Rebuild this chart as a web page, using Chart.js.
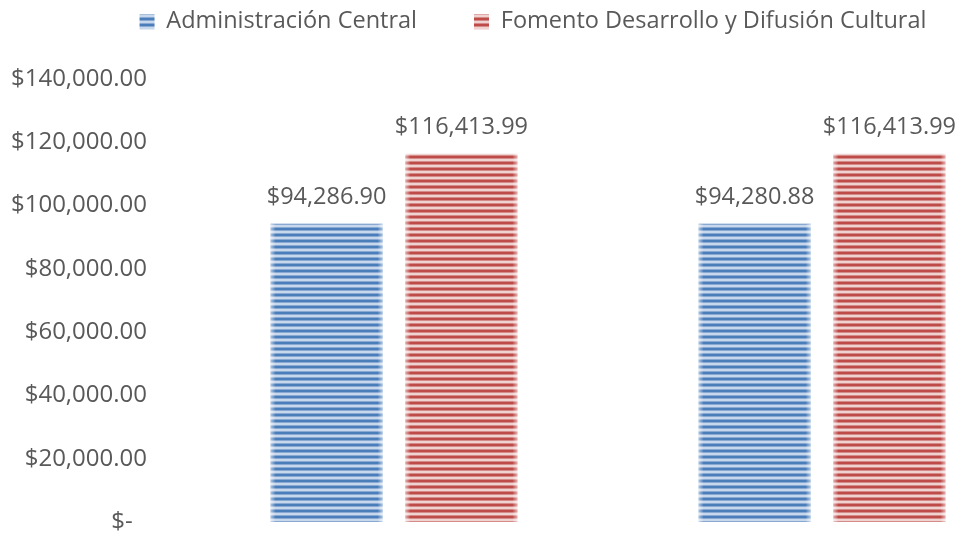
<!DOCTYPE html>
<html>
<head>
<meta charset="utf-8">
<script src="https://cdn.jsdelivr.net/npm/chart.js@4"></script>
<style>
html,body{margin:0;padding:0;background:#fff;overflow:hidden;}
#wrap{width:965px;height:533px;overflow:hidden;position:relative;}
canvas{display:block;}
</style>
</head>
<body>
<div id="wrap"><canvas id="c" width="1066" height="533"></canvas></div>
<script>
const categories = ['1', '2'];
const seriesNames = ['Administración Central', 'Fomento Desarrollo y Difusión Cultural'];
const adminValues = [94286.90, 94280.88];
const fomentoValues = [116413.99, 116413.99];
const yTicks = [0, 20000, 40000, 60000, 80000, 100000, 120000, 140000];

const FONT = '"Open Sans", sans-serif';
const TEXT = '#595959';
const FS = 23.5;

function stripes(dark, mid, light) {
  const c = document.createElement('canvas');
  c.width = 4; c.height = 6;
  const g = c.getContext('2d');
  const rows = [dark, dark, mid, light, light, mid];
  rows.forEach((col, i) => { g.fillStyle = col; g.fillRect(0, i, 4, 1); });
  return g.createPattern(c, 'repeat');
}
const bluePat = stripes('#4a7ebb', '#8aa9d2', '#c8d8ec');
const redPat = stripes('#be4b48', '#d48c8a', '#f0d2d1');

function money(v) {
  return '$' + v.toLocaleString('en-US', {minimumFractionDigits: 2, maximumFractionDigits: 2});
}

const legendSpace = {
  id: 'legendSpace',
  beforeLayout(chart) {
    const lg = chart.legend;
    if (lg && !lg._patched) {
      const fit = lg.fit;
      lg.fit = function () { fit.call(this); this.height += 35.5; };
      lg._patched = true;
    }
  }
};

const edgePlugin = {
  id: 'edges',
  afterDatasetsDraw(chart) {
    const ctx = chart.ctx;
    chart.data.datasets.forEach((ds, i) => {
      chart.getDatasetMeta(i).data.forEach(el => {
        const l = el.x - el.width / 2, r = el.x + el.width / 2;
        const top = el.y, h = el.base - el.y;
        let g = ctx.createLinearGradient(l, 0, l + 5, 0);
        g.addColorStop(0, 'rgba(255,255,255,0.55)');
        g.addColorStop(1, 'rgba(255,255,255,0)');
        ctx.fillStyle = g; ctx.fillRect(l, top, 5, h);
        g = ctx.createLinearGradient(r, 0, r - 5, 0);
        g.addColorStop(0, 'rgba(255,255,255,0.55)');
        g.addColorStop(1, 'rgba(255,255,255,0)');
        ctx.fillStyle = g; ctx.fillRect(r - 5, top, 5, h);
      });
    });
  }
};

const labelPlugin = {
  id: 'valueLabels',
  afterDatasetsDraw(chart) {
    const ctx = chart.ctx;
    ctx.save();
    ctx.font = FS + 'px ' + FONT;
    ctx.fillStyle = TEXT;
    ctx.textAlign = 'center';
    ctx.textBaseline = 'middle';
    chart.data.datasets.forEach((ds, i) => {
      chart.getDatasetMeta(i).data.forEach((el, j) => {
        ctx.fillText(money(ds.data[j]), el.x, el.y - 26);
      });
    });
    ctx.restore();
  }
};

const chart = new Chart(document.getElementById('c'), {
  type: 'bar',
  data: {
    labels: categories,
    datasets: [
      {label: seriesNames[0], data: adminValues, backgroundColor: bluePat, borderWidth: 0},
      {label: seriesNames[1], data: fomentoValues, backgroundColor: redPat, borderWidth: 0}
    ]
  },
  options: {
    responsive: false,
    animation: false,
    devicePixelRatio: 1,
    layout: {padding: {left: 30, right: 30, top: -47, bottom: 11}},
    datasets: {bar: {categoryPercentage: 0.63, barPercentage: 0.83}},
    plugins: {
      tooltip: {enabled: false},
      legend: {
        position: 'top',
        labels: {
          font: {family: FONT, size: FS},
          color: TEXT,
          boxWidth: 15,
          boxHeight: 15,
          padding: 57
        }
      }
    },
    scales: {
      x: {display: false},
      y: {
        min: 0, max: 140000,
        afterFit(s) {
          s.width = 150;
          s.paddingTop = 0; s.paddingBottom = 0;
          s._computeLabelArea = () => undefined;
        },
        afterBuildTicks(s) { s.ticks = yTicks.map(v => ({value: v})); },
        grid: {display: false, drawTicks: false},
        border: {display: false},
        ticks: {
          padding: 33,
          font: {family: FONT, size: 24},
          color: TEXT,
          callback: v => v === 0 ? '$-\u2002\u200A' : money(v)
        }
      }
    }
  },
  plugins: [legendSpace, edgePlugin, labelPlugin]
});
</script>
</body>
</html>
